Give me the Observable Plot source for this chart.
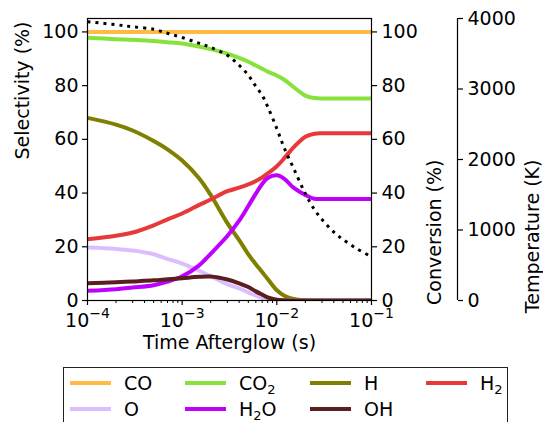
<!DOCTYPE html>
<html>
<head>
<meta charset="utf-8">
<script src="https://cdn.jsdelivr.net/npm/d3@7"></script>
<script src="https://cdn.jsdelivr.net/npm/@observablehq/plot@0.6"></script>
<style>
  body { margin: 0; background: #fff; font-family: "DejaVu Sans", sans-serif; }
  #wrap { position: relative; width: 543px; height: 422px; overflow: hidden; }
  #legend { position: absolute; left: 63px; top: 366.5px; width: 445px; height: 80px;
            border: 1.2px solid #222; box-sizing: border-box; font-size: 19px; color: #000; }
  .item { position: absolute; height: 22px; line-height: 22px; white-space: nowrap; }
  .item svg { position: absolute; left: 0; top: 9px; }
  .item span { position: absolute; left: 54px; top: 0; }
  .item sub { font-size: 13px; vertical-align: -4px; line-height: 0; }
</style>
</head>
<body>
<div id="wrap">
  <div id="chart"></div>
  <div id="legend"></div>
</div>
<script>
// Afterglow time (s)
const time = [1e-4, 2e-4, 3e-4, 5e-4, 7e-4, 1e-3, 1.5e-3, 2e-3, 3e-3, 4e-3, 5e-3, 6e-3,
              7e-3, 8e-3, 1e-2, 1.2e-2, 1.5e-2, 2e-2, 2.5e-2, 3e-2, 4e-2, 5e-2, 7e-2, 1e-1];

// Selectivities (%)
const selCO  = [100, 100, 100, 100, 100, 100, 100, 100, 100, 100, 100, 100,
                100, 100, 100, 100, 100, 100, 100, 100, 100, 100, 100, 100];
const selCO2 = [97.8, 97.3, 97.1, 96.6, 96.2, 95.7, 94.6, 93.6, 91.9, 90.3, 88.9, 87.5,
                86.3, 85.2, 83.8, 82.2, 79.5, 76.3, 75.4, 75.2, 75.2, 75.2, 75.2, 75.2];
const selH   = [68.0, 65.5, 63.3, 59.4, 56.3, 52.1, 45.6, 39.3, 28.8, 22.5, 17.2, 13.5,
                10.6, 8.0, 3.8, 1.8, 0.6, 0.1, 0, 0, 0, 0, 0, 0];
const selH2  = [22.8, 24.1, 25.3, 28.0, 30.2, 32.4, 35.5, 37.6, 40.7, 42.0, 43.2, 44.5,
                45.8, 47.3, 50.0, 53.0, 57.0, 61.0, 62.1, 62.3, 62.3, 62.3, 62.3, 62.3];
const selO   = [19.7, 19.2, 18.6, 17.2, 15.5, 13.7, 11.1, 9.0, 6.0, 4.5, 3.0, 1.8,
                1.0, 0.4, 0, 0, 0, 0, 0, 0, 0, 0, 0, 0];
const selH2O = [3.6, 4.2, 4.8, 5.7, 7.0, 9.0, 13.0, 17.4, 24.0, 29.7, 35.2, 39.8,
                43.4, 45.6, 46.6, 45.3, 42.0, 39.3, 37.9, 37.8, 37.8, 37.8, 37.8, 37.8];
const selOH  = [6.4, 6.8, 7.1, 7.5, 7.9, 8.3, 8.8, 8.9, 7.8, 6.4, 5.0, 3.4,
                2.2, 1.2, 0.3, 0.1, 0, 0, 0, 0, 0, 0, 0, 0];

// Gas temperature (K)
const temperature = [3954, 3912, 3882, 3848, 3790, 3730, 3650, 3590, 3478, 3337, 3196, 3036,
                     2910, 2750, 2438, 2160, 1878, 1516, 1288, 1150, 971, 865, 735, 620];

// Species, colours and legend layout (two rows of four)
const species   = ["CO", "CO2", "H", "H2", "O", "H2O", "OH"];
const speciesHtml = ["CO", "CO<sub>2</sub>", "H", "H<sub>2</sub>", "O", "H<sub>2</sub>O", "OH"];
const colors    = ["#ffbb44", "#88e23c", "#808000", "#e8393a", "#dcbeff", "#c000ff", "#5b1f1f"];
const legendOrder = ["CO", "CO2", "H", "H2", "O", "H2O", "OH"];

// Axes
const pctTicks = [0, 20, 40, 60, 80, 100];
const tempTicks = [0, 1000, 2000, 3000, 4000];
const timeTicks = [1e-4, 1e-3, 1e-2, 1e-1];
const minorTicks = [2e-4,3e-4,4e-4,5e-4,6e-4,7e-4,8e-4,9e-4,
                    2e-3,3e-3,4e-3,5e-3,6e-3,7e-3,8e-3,9e-3,
                    2e-2,3e-2,4e-2,5e-2,6e-2,7e-2,8e-2,9e-2];
const yMax = 105;
const tempMax = 4000;

const seriesValues = [selCO, selCO2, selH, selH2, selO, selH2O, selOH];
const rows = species.map((s, i) => time.map((t, j) => ({species: s, time: t, value: seriesValues[i][j]})));
const tempRows = time.map((t, j) => ({time: t, T: temperature[j]}));
const kToY = k => k * yMax / tempMax;   // temperature axis shares the frame with 0–105 %

const font = "DejaVu Sans";

const plot = Plot.plot({
  width: 543,
  height: 362,
  marginLeft: 87,
  marginRight: 172,
  marginTop: 18,
  marginBottom: 62,
  style: {fontFamily: font, fontSize: "19px", color: "#000", background: "#fff"},
  x: {type: "log", domain: [1e-4, 1e-1]},
  y: {domain: [0, yMax]},
  marks: [
    ...rows.map((r, i) => Plot.line(r, {
      x: "time", y: "value", stroke: colors[i], strokeWidth: 4,
      curve: "catmull-rom", clip: true
    })),
    Plot.line(tempRows, {
      x: "time", y: d => kToY(d.T), stroke: "#000", strokeWidth: 3,
      strokeDasharray: "3,5", strokeLinecap: "butt", curve: "catmull-rom", clip: true
    }),
    Plot.frame({stroke: "#000", strokeWidth: 1.2}),
    // left: selectivity
    Plot.axisY({ticks: pctTicks, tickSize: 5, tickPadding: 4, label: null, strokeWidth: 1.2}),
    // right: conversion
    Plot.axisY({anchor: "right", ticks: pctTicks, tickSize: 5, tickPadding: 5, label: null, strokeWidth: 1.2}),
    // far right: temperature
    Plot.ruleX([1e-1], {x: d => d, y1: kToY(tempTicks[0]), y2: kToY(tempTicks[tempTicks.length - 1]),
                        dx: 86, stroke: "#000", strokeWidth: 1.2}),
    Plot.axisY({anchor: "right", ticks: tempTicks.map(kToY), tickFormat: v => String(Math.round(v * tempMax / yMax)),
                tickSize: 5, tickPadding: 5, label: null, dx: 86, strokeWidth: 1.2}),
    // time axis, major and minor ticks
    Plot.axisX({ticks: timeTicks, tickSize: 5, tickPadding: 8, label: null, strokeWidth: 1.2,
                tickFormat: d => "10^" + Math.round(Math.log10(d))}),
    Plot.axisX({ticks: minorTicks, tickSize: 3, label: null, strokeWidth: 1, tickFormat: () => ""}),
    // axis titles
    Plot.text(["Selectivity (%)"], {frameAnchor: "left", rotate: -90, dx: -65, fontSize: 19}),
    Plot.text(["Conversion (%)"], {frameAnchor: "right", rotate: -90, dx: 63, fontSize: 19}),
    Plot.text(["Temperature (K)"], {frameAnchor: "right", rotate: -90, dx: 161, fontSize: 19}),
    Plot.text(["Time Afterglow (s)"], {frameAnchor: "bottom", dy: 48, fontSize: 19})
  ]
});

document.getElementById("chart").appendChild(plot);

// Power-of-ten labels: "10" with a raised exponent
d3.select(plot).selectAll('g[aria-label="x-axis tick label"] text').each(function () {
  const txt = d3.select(this).text();
  if (!txt.startsWith("10^")) return;
  const exp = txt.slice(3).replace("-", "\u2212");
  const sel = d3.select(this);
  sel.text("10");
  sel.append("tspan").attr("dy", "-9").attr("font-size", "14px").text(exp);
});

// Legend
const legend = d3.select("#legend");
const colLeft = [6, 121, 246, 362];
const rowTop = [4, 30.5];
legendOrder.forEach((s, k) => {
  const i = species.indexOf(s);
  const row = k < 4 ? 0 : 1;
  const col = k < 4 ? k : k - 4;
  const item = legend.append("div").attr("class", "item")
    .style("left", colLeft[col] + "px").style("top", rowTop[row] + "px");
  const svg = item.append("svg").attr("width", 42).attr("height", 4);
  svg.append("line").attr("x1", 0).attr("x2", 41).attr("y1", 2).attr("y2", 2)
    .attr("stroke", colors[i]).attr("stroke-width", 4);
  item.append("span").html(speciesHtml[i]);
});
</script>
</body>
</html>
